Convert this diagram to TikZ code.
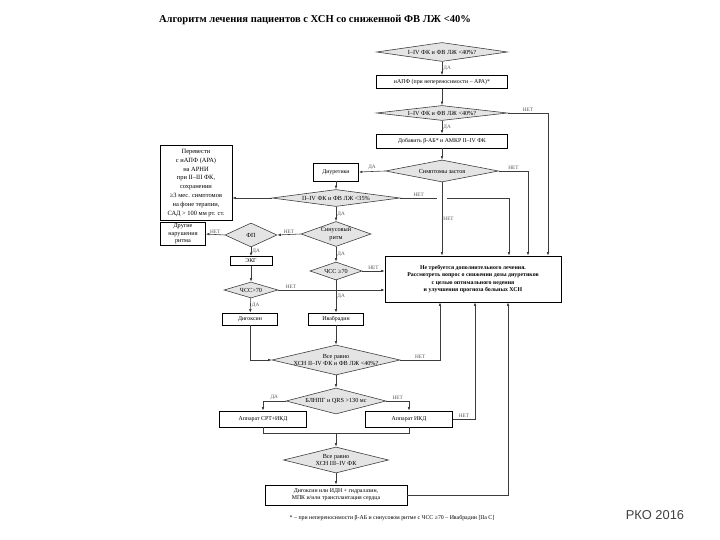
\documentclass[tikz,border=0pt]{standalone}
\usepackage{fontspec}
\setmainfont{Liberation Serif}
\newfontfamily\slidefont{Liberation Sans}
\usetikzlibrary{arrows.meta,calc,shapes.geometric}
\definecolor{linegray}{HTML}{3C3C3C}
\definecolor{diafill}{HTML}{E4E4E4}
\definecolor{labelgray}{HTML}{555555}

\begin{document}
\begin{tikzpicture}[x=0.03cm,y=-0.03cm,
      box/.style={draw=black,fill=white,line width=0.6pt,inner sep=0.5pt,align=center,font=\fontsize{5}{6}\selectfont},
      dia/.style={diamond,draw=linegray,fill=diafill,line width=0.5pt,inner sep=0pt,align=center,font=\fontsize{5.3}{6.2}\selectfont},
      ln/.style={draw=linegray,line width=0.5pt},
      arr/.style={ln,-{Latex[length=3pt,width=2.2pt]}},
      lbl/.style={font=\fontsize{4.5}{5}\selectfont,text=labelgray,inner sep=1pt}]
    \useasboundingbox (0,0) rectangle (720,540);
    \node[font=\fontsize{9}{10}\selectfont\bfseries] (title) at (315,20) {Алгоритм лечения пациентов с ХСН со сниженной ФВ ЛЖ <40\%};
    % main column
    \node[dia,minimum width=3.93cm,minimum height=0.57cm,aspect=6.9] (d1) at (442,52) {I–IV ФК и ФВ ЛЖ <40\%?};
    \node[box,minimum width=3.93cm,minimum height=0.39cm] (a1) at (442,82) {иАПФ (при непереносимости – АРА)*};
    \node[dia,minimum width=3.93cm,minimum height=0.45cm,aspect=8] (d2) at (442,113) {I–IV ФК и ФВ ЛЖ <40\%?};
    \node[box,minimum width=3.93cm,minimum height=0.42cm] (b1) at (442,141) {Добавить β-АБ* и АМКР II–IV ФК};
    \node[dia,minimum width=3.39cm,minimum height=0.66cm,aspect=5] (d3) at (442,171) {Симптомы застоя};
    \node[box,minimum width=1.35cm,minimum height=0.54cm] (diur) at (336,172) {Диуретики};
    \node[dia,minimum width=3.84cm,minimum height=0.51cm,aspect=7.5] (d4) at (336,198) {II–IV ФК и ФВ ЛЖ <35\%};
    \node[box,minimum width=2.16cm,minimum height=2.25cm,font=\fontsize{5.5}{7.6}\selectfont] (arni) at (196,183)
      {Перевести\\с иАПФ (АРА)\\на АРНИ\\при II–III ФК,\\сохранении\\≥3 мес. симптомов\\на фоне терапии,\\САД > 100 мм рт. ст.};
    % rhythm
    \node[dia,minimum width=2.1cm,minimum height=0.75cm,aspect=2.8] (d5) at (336,234) {Синусовый\\ритм};
    \node[dia,minimum width=1.56cm,minimum height=0.72cm,aspect=2.2] (d6) at (251,235) {ФП};
    \node[box,minimum width=1.35cm,minimum height=0.69cm,font=\fontsize{5.3}{6.3}\selectfont] (other) at (183,234) {Другие\\нарушения\\ритма};
    \node[box,minimum width=1.26cm,minimum height=0.27cm] (ekg) at (251,261) {ЭКГ};
    \node[dia,minimum width=1.62cm,minimum height=0.48cm,aspect=3.4] (d7) at (251,290) {ЧСС>70};
    \node[dia,minimum width=1.56cm,minimum height=0.54cm,aspect=2.9] (d8) at (336,271) {ЧСС ≥70};
    \node[box,minimum width=5.28cm,minimum height=1.38cm,font=\fontsize{5}{6.2}\selectfont\bfseries] (big) at (473,279)
      {Не требуется дополнительного лечения.\\Рассмотреть вопрос о снижении дозы диуретиков\\с целью оптимального ведения\\и улучшения прогноза больных ХСН};
    \node[box,minimum width=1.65cm,minimum height=0.36cm] (dig) at (250,319) {Дигоксин};
    \node[box,minimum width=1.65cm,minimum height=0.36cm] (ivab) at (336,319) {Ивабрадин};
    % devices
    \node[dia,minimum width=3.84cm,minimum height=0.9cm,aspect=4.3,inner xsep=-0.6cm] (d9) at (336,360) {Все равно\\ХСН II–IV ФК и ФВ ЛЖ <40\%?};
    \node[dia,minimum width=3.0cm,minimum height=0.78cm,aspect=3.8] (d10) at (336,401) {БЛНПГ и QRS >130 мс};
    \node[box,minimum width=2.61cm,minimum height=0.48cm] (crt) at (263,419) {Аппарат СРТ+ИКД};
    \node[box,minimum width=2.61cm,minimum height=0.48cm] (icd) at (409,419) {Аппарат ИКД};
    \coordinate (merge) at (336,433);
    \node[dia,minimum width=3.15cm,minimum height=0.78cm,aspect=4] (d11) at (336,460) {Все равно\\ХСН III–IV ФК};
    \node[box,minimum width=4.26cm,minimum height=0.6cm] (final) at (336,495) {Дигоксин или ИДН + гидралазин,\\МПК и/или трансплантация сердца};
    \node[font=\fontsize{5}{6}\selectfont] (note) at (392,518) {* – при непереносимости β-АБ и синусовом ритме с ЧСС ≥70 – Ивабрадин [IIa C]};
    \node[font=\slidefont\fontsize{11}{13}\selectfont,text=black!75] (rko) at (655,515) {РКО 2016};
    % lanes
    \coordinate (laneB) at (509,0);
    \coordinate (laneC) at (528,0);
    \coordinate (laneD) at (548,0);
    \coordinate (laneE) at (440,0);
    \coordinate (laneF) at (475,0);
    \coordinate (laneG) at (508,0);
    % connectors
    \draw[arr] (d1) -- node[lbl,right] {ДА} (a1);
    \draw[arr] (a1) -- (d2);
    \draw[arr] (d2) -- node[lbl,right] {ДА} (b1);
    \draw[arr] (d2.east) -| node[lbl,above,pos=0.25] {НЕТ} (laneD |- big.north);
    \draw[arr] (b1) -- (d3);
    \draw[arr] (d3.west) -- node[lbl,above] {ДА} (diur.east);
    \draw[arr] (d3.east) -| node[lbl,above,pos=0.25] {НЕТ} (laneC |- big.north);
    \draw[arr] (d3.south) -- node[lbl,right] {НЕТ} (d3.south |- big.north);
    \draw[arr] (diur) -- (d4);
    \draw[arr] (d4.west) -- (d4.west -| arni.east);
    \draw[ln] (d4.east) -- node[lbl,above] {НЕТ} ($(d4.east -| d3.south)+(-5,0)$);
    \draw[arr] ($(d4.east -| d3.south)+(5,0)$) -| (laneB |- big.north);
    \draw[arr] (d4) -- node[lbl,right] {ДА} (d5);
    \draw[arr] (d5.west) -- node[lbl,above] {НЕТ} (d6.east);
    \draw[arr] (d6.west) -- node[lbl,above] {НЕТ} (other.east);
    \draw[arr] (d6) -- node[lbl,right] {ДА} (ekg);
    \draw[arr] (ekg) -- (d7);
    \draw[arr] (d7.east) -- node[lbl,above,pos=0.12] {НЕТ} (d7.east -| big.west);
    \draw[arr] (d7) -- node[lbl,right] {ДА} (dig);
    \draw[arr] (d5) -- node[lbl,right] {ДА} (d8);
    \draw[arr] (d8.east) -- node[lbl,above] {НЕТ} (d8.east -| big.west);
    \draw[arr] (d8) -- node[lbl,right] {ДА} (ivab);
    \draw[arr] (dig.south) |- (d9.west);
    \draw[arr] (ivab) -- (d9);
    \draw[arr] (d9.east) -| node[lbl,above,pos=0.25] {НЕТ} (laneE |- big.south);
    \draw[arr] (d9) -- (d10);
    \draw[arr] (d10.west) -| node[lbl,above,pos=0.25] {ДА} (crt.north);
    \draw[arr] (d10.east) -| node[lbl,above,pos=0.25] {НЕТ} (icd.north);
    \draw[ln] (crt.south) -- (crt.south |- merge) -- (icd.south |- merge) -- (icd.south);
    \draw[arr] (merge) -- (d11);
    \draw[arr] (icd.east) -| node[lbl,above,pos=0.25] {НЕТ} (laneF |- big.south);
    \draw[arr] (d11) -- (final);
    \draw[arr] (final.east) -| (laneG |- big.south);
\end{tikzpicture}
\end{document}
